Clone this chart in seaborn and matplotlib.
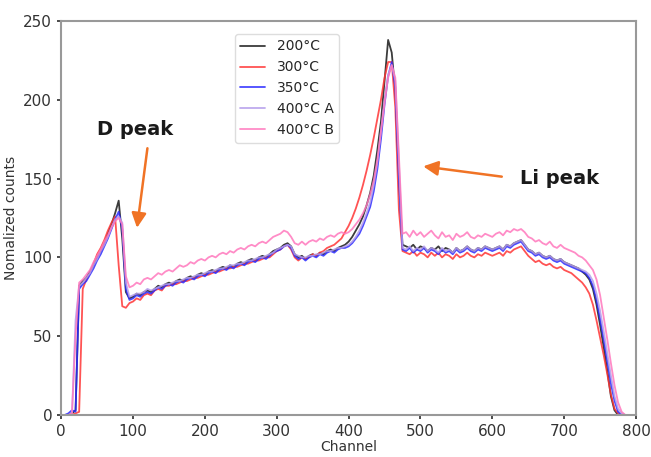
import matplotlib
matplotlib.use('Agg')
import matplotlib.pyplot as plt
import numpy as np
import pandas as pd
import seaborn as sns

# channels sampled every 5
channels = np.arange(0, 801, 5)

series_names = ['200°C', '300°C', '350°C', '400°C A', '400°C B']
series_colors = ['#1a1a1a', '#ff3535', '#2a2aff', '#b39ceb', '#ff78bd']

counts_200 = [
    0, 0, 0, 1, 3, 82, 85, 87, 91, 95,
    100, 104, 109, 115, 121, 128, 136, 112, 78, 74,
    75, 77, 76, 78, 79, 78, 80, 82, 81, 83,
    84, 83, 85, 86, 85, 87, 88, 87, 89, 90,
    89, 91, 92, 91, 93, 94, 93, 95, 94, 96,
    97, 96, 98, 99, 98, 100, 101, 100, 102, 104,
    105, 106, 108, 109, 107, 102, 100, 101, 99, 101,
    102, 101, 103, 102, 104, 105, 104, 106, 107, 108,
    110, 113, 117, 121, 126, 133, 141, 152, 168, 186,
    212, 238, 230, 205, 150, 108, 107, 106, 108, 105,
    107, 106, 104, 106, 105, 107, 104, 106, 105, 103,
    106, 104, 105, 107, 105, 104, 106, 105, 107, 106,
    105, 106, 107, 105, 108, 107, 109, 110, 111, 108,
    105, 104, 102, 103, 101, 100, 101, 99, 98, 99,
    97, 96, 95, 94, 93, 91, 89, 86, 80, 70,
    57, 43, 28, 12, 3, 0, 0, 0, 0, 0,
    0,
]

counts_300 = [
    0, 0, 0, 0, 1, 2, 80, 86, 90, 96,
    102, 106, 111, 117, 122, 126, 95, 69, 68, 71,
    72, 74, 73, 76, 77, 76, 79, 80, 79, 82,
    82, 83, 83, 84, 85, 85, 86, 87, 87, 88,
    89, 89, 90, 91, 91, 92, 93, 93, 94, 94,
    95, 96, 96, 97, 98, 98, 99, 100, 100, 102,
    104, 105, 107, 108, 105, 100, 98, 100, 99, 100,
    102, 101, 103, 104, 106, 107, 108, 110, 112, 116,
    120, 125, 131, 138, 146, 155, 165, 176, 188, 200,
    214, 224, 224, 195, 130, 104, 103, 102, 104, 101,
    103, 102, 100, 103, 101, 103, 100, 102, 101, 99,
    102, 100, 101, 103, 101, 100, 102, 101, 103, 102,
    101, 102, 103, 101, 104, 103, 105, 106, 107, 104,
    101, 99, 97, 98, 96, 95, 96, 94, 93, 94,
    92, 91, 90, 88, 86, 84, 81, 77, 70, 60,
    49, 38, 26, 13, 4, 1, 0, 0, 0, 0,
    0,
]

counts_350 = [
    0, 0, 1, 3, 2, 80, 83, 85, 89, 93,
    98, 102, 107, 112, 118, 124, 129, 118, 80, 73,
    74, 76, 75, 77, 78, 77, 79, 81, 80, 82,
    83, 82, 84, 85, 84, 86, 87, 86, 88, 89,
    88, 90, 91, 90, 92, 93, 92, 94, 93, 95,
    96, 95, 97, 98, 97, 99, 100, 99, 101, 103,
    104, 105, 107, 108, 106, 101, 99, 100, 98, 100,
    101, 100, 102, 101, 103, 104, 103, 105, 106, 106,
    107, 109, 112, 115, 120, 126, 132, 142, 156, 175,
    197, 215, 224, 208, 150, 105, 104, 106, 103, 105,
    104, 106, 103, 105, 104, 102, 105, 103, 104, 102,
    105, 103, 104, 106, 104, 103, 105, 104, 106, 105,
    104, 105, 106, 104, 107, 106, 108, 109, 110, 107,
    104, 103, 101, 102, 100, 99, 100, 98, 97, 98,
    96, 95, 94, 93, 92, 91, 90, 87, 82, 73,
    61, 48, 34, 20, 9, 2, 0, 0, 0, 0,
    0,
]

counts_400a = [
    0, 0, 0, 1, 60, 82, 84, 87, 90, 95,
    99, 104, 108, 113, 119, 124, 126, 122, 84, 75,
    76, 77, 77, 78, 80, 79, 80, 81, 82, 83,
    83, 84, 85, 85, 86, 87, 87, 88, 89, 89,
    90, 91, 91, 92, 93, 93, 94, 95, 95, 96,
    96, 97, 98, 98, 99, 100, 100, 101, 102, 103,
    105, 106, 107, 108, 107, 102, 101, 100, 100, 101,
    101, 102, 102, 103, 104, 104, 105, 106, 106, 107,
    108, 110, 113, 117, 122, 128, 135, 146, 160, 180,
    200, 216, 222, 212, 160, 106, 105, 107, 104, 106,
    105, 107, 104, 106, 105, 103, 106, 104, 105, 103,
    106, 104, 105, 107, 105, 104, 106, 105, 107, 106,
    105, 106, 107, 105, 108, 107, 109, 110, 111, 108,
    105, 104, 102, 103, 101, 100, 101, 99, 98, 99,
    97, 96, 95, 94, 93, 92, 91, 89, 85, 77,
    66, 53, 39, 25, 12, 4, 1, 0, 0, 0,
    0,
]

counts_400b = [
    0, 0, 0, 1, 50, 84, 86, 89, 92, 97,
    101, 105, 110, 114, 119, 123, 125, 121, 88, 81,
    82, 84, 83, 86, 87, 86, 88, 90, 89, 91,
    92, 91, 93, 95, 94, 95, 97, 96, 98, 99,
    98, 100, 101, 100, 102, 103, 102, 104, 103, 105,
    106, 105, 107, 108, 107, 109, 110, 109, 111, 113,
    114, 115, 117, 116, 113, 109, 108, 110, 108, 110,
    111, 110, 112, 111, 113, 114, 113, 115, 116, 115,
    116, 118, 121, 124, 128, 133, 140, 149, 162, 180,
    198, 214, 222, 214, 165, 115, 116, 113, 117, 114,
    116, 113, 115, 117, 114, 112, 116, 113, 114, 111,
    115, 113, 114, 116, 113, 112, 114, 113, 115, 114,
    113, 115, 116, 114, 117, 116, 118, 117, 118, 116,
    113, 112, 110, 111, 109, 108, 110, 107, 106, 108,
    106, 105, 104, 103, 101, 100, 98, 95, 92, 86,
    76, 62, 48, 33, 19, 8, 2, 0, 0, 0,
    0,
]

all_counts = [counts_200, counts_300, counts_350, counts_400a, counts_400b]

frames = []
for name, vals in zip(series_names, all_counts):
    frames.append(pd.DataFrame({'Channel': channels, 'counts': vals, 'sample': name}))
df = pd.concat(frames, ignore_index=True)

sns.set_theme(style='white')
plt.rcParams['font.family'] = ['DejaVu Sans']

fig = plt.figure(figsize=(6.51, 4.57), dpi=100)
ax = fig.add_axes([0.094, 0.092, 0.883, 0.862])

sns.lineplot(data=df, x='Channel', y='counts', hue='sample',
             palette=dict(zip(series_names, series_colors)),
             linewidth=1.3, alpha=0.85, ax=ax)

ax.set_xlim(0, 800)
ax.set_ylim(0, 250)
ax.set_xticks(range(0, 801, 100))
ax.set_yticks(range(0, 251, 50))
ax.tick_params(axis='both', labelsize=11, colors='#333333', length=3,
               direction='out', bottom=True, left=True)
for side in ax.spines.values():
    side.set_color('#999999')
    side.set_linewidth(1.5)
ax.set_xlabel('Channel', fontsize=10, color='#333333', labelpad=1)
ax.set_ylabel('Nomalized counts', fontsize=10, color='#333333')

handles, labels = ax.get_legend_handles_labels()
ax.legend(handles, labels, loc='upper left', bbox_to_anchor=(0.29, 0.985),
          fontsize=10, frameon=True, framealpha=1, edgecolor='#dddddd',
          handlelength=1.8)

arrow_color = '#f07325'
ax.annotate('', xy=(105, 117), xytext=(120.5, 171),
            arrowprops=dict(arrowstyle='-|>', color=arrow_color, lw=1.8,
                            mutation_scale=22))
ax.annotate('', xy=(500, 158), xytext=(617, 151),
            arrowprops=dict(arrowstyle='-|>', color=arrow_color, lw=1.8,
                            mutation_scale=22))
ax.text(103, 181, 'D peak', fontsize=14, fontweight='bold', color='#1a1a1a',
        ha='center', va='center')
ax.text(693, 150, 'Li peak', fontsize=14, fontweight='bold', color='#1a1a1a',
        ha='center', va='center')

fig.savefig('out.png', dpi=100)
